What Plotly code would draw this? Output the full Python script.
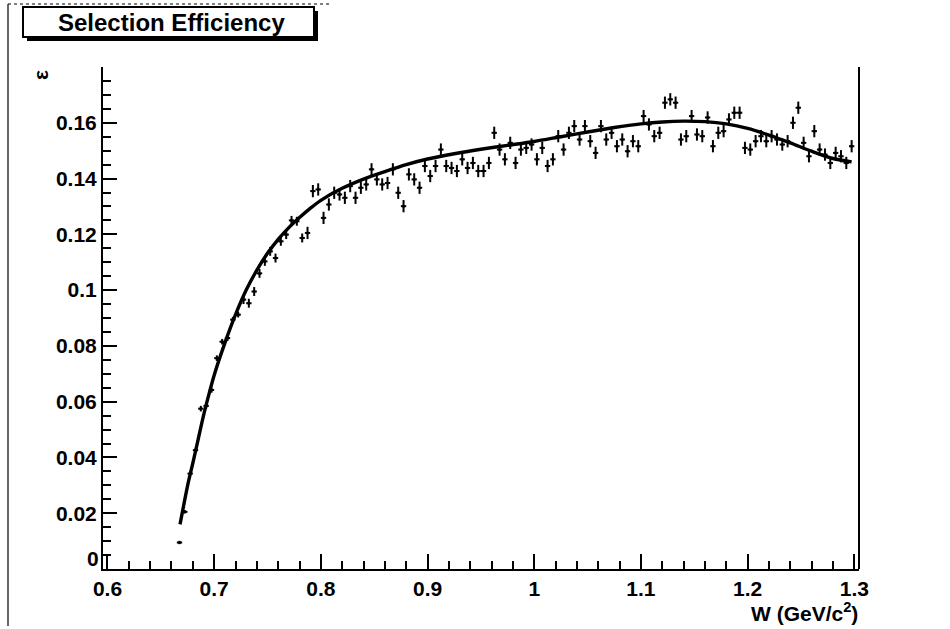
import plotly.graph_objects as go

# ---- data ----
w_bins = [0.6675, 0.6725, 0.6775, 0.6825, 0.6875, 0.6925, 0.6975, 0.7025, 0.7075, 0.7125,
          0.7175, 0.7225, 0.7275, 0.7325, 0.7375, 0.7425, 0.7475, 0.7525, 0.7575, 0.7625,
          0.7675, 0.7725, 0.7775, 0.7825, 0.7875, 0.7925, 0.7975, 0.8025, 0.8075, 0.8125,
          0.8175, 0.8225, 0.8275, 0.8325, 0.8375, 0.8425, 0.8475, 0.8525, 0.8575, 0.8625,
          0.8675, 0.8725, 0.8775, 0.8825, 0.8875, 0.8925, 0.8975, 0.9025, 0.9075, 0.9125,
          0.9175, 0.9225, 0.9275, 0.9325, 0.9375, 0.9425, 0.9475, 0.9525, 0.9575, 0.9625,
          0.9675, 0.9725, 0.9775, 0.9825, 0.9875, 0.9925, 0.9975, 1.0025, 1.0075, 1.0125,
          1.0175, 1.0225, 1.0275, 1.0325, 1.0375, 1.0425, 1.0475, 1.0525, 1.0575, 1.0625,
          1.0675, 1.0725, 1.0775, 1.0825, 1.0875, 1.0925, 1.0975, 1.1025, 1.1075, 1.1125,
          1.1175, 1.1225, 1.1275, 1.1325, 1.1375, 1.1425, 1.1475, 1.1525, 1.1575, 1.1625,
          1.1675, 1.1725, 1.1775, 1.1825, 1.1875, 1.1925, 1.1975, 1.2025, 1.2075, 1.2125,
          1.2175, 1.2225, 1.2275, 1.2325, 1.2375, 1.2425, 1.2475, 1.2525, 1.2575, 1.2625,
          1.2675, 1.2725, 1.2775, 1.2825, 1.2875, 1.2925, 1.2975]

efficiency = [0.0095, 0.0205, 0.0342, 0.0426, 0.0575, 0.0585, 0.0642, 0.0756, 0.0815, 0.0828,
              0.0894, 0.0912, 0.0966, 0.0953, 0.0995, 0.1060, 0.1103, 0.1139, 0.1115, 0.1175,
              0.1199, 0.1250, 0.1247, 0.1187, 0.1205, 0.1355, 0.1361, 0.1259, 0.1307, 0.1349,
              0.1343, 0.1331, 0.1373, 0.1331, 0.1367, 0.1379, 0.1433, 0.1397, 0.1379, 0.1384,
              0.1433, 0.1349, 0.1301, 0.1415, 0.1397, 0.1367, 0.1445, 0.1409, 0.1445, 0.1504,
              0.1445, 0.1438, 0.1427, 0.1469, 0.1438, 0.1456, 0.1427, 0.1427, 0.1456, 0.1564,
              0.1504, 0.1469, 0.1528, 0.1456, 0.1504, 0.1510, 0.1522, 0.1469, 0.1510, 0.1445,
              0.1469, 0.1552, 0.1504, 0.1564, 0.1588, 0.1540, 0.1588, 0.1534, 0.1492, 0.1588,
              0.1540, 0.1564, 0.1516, 0.1540, 0.1498, 0.1534, 0.1516, 0.1624, 0.1594, 0.1552,
              0.1564, 0.1672, 0.1684, 0.1672, 0.1540, 0.1552, 0.1624, 0.1558, 0.1552, 0.1619,
              0.1516, 0.1564, 0.1570, 0.1612, 0.1636, 0.1636, 0.1510, 0.1504, 0.1534, 0.1552,
              0.1534, 0.1552, 0.1540, 0.1522, 0.1534, 0.1600, 0.1654, 0.1528, 0.1480, 0.1570,
              0.1504, 0.1486, 0.1456, 0.1492, 0.1480, 0.1456, 0.1516]

eff_err = [0.0006] * 4 + [0.0010] * 8 + [0.0016] * 12 + [0.0022] * 103
bin_half = [0.0025] * 127

fit_w = [0.668, 0.672, 0.676, 0.680, 0.685, 0.690, 0.695, 0.700, 0.710, 0.720,
         0.730, 0.740, 0.750, 0.760, 0.770, 0.780, 0.790, 0.800, 0.820, 0.840,
         0.860, 0.880, 0.900, 0.925, 0.950, 0.975, 1.000, 1.025, 1.050, 1.075,
         1.100, 1.120, 1.140, 1.160, 1.180, 1.200, 1.220, 1.240, 1.260, 1.280, 1.2975]
fit_eff = [0.0160, 0.0240, 0.0315, 0.0380, 0.0465, 0.0550, 0.0625, 0.0695, 0.0810, 0.0912,
           0.1000, 0.1072, 0.1132, 0.1182, 0.1224, 0.1260, 0.1293, 0.1322, 0.1365, 0.1398,
           0.1425, 0.1450, 0.1470, 0.1489, 0.1505, 0.1519, 0.1533, 0.1550, 0.1567, 0.1583,
           0.1596, 0.1603, 0.1606, 0.1604, 0.1596, 0.1580, 0.1556, 0.1528, 0.1498, 0.1472, 0.1460]

x_ticks = [0.6, 0.7, 0.8, 0.9, 1.0, 1.1, 1.2, 1.3]
x_labels = ["0.6", "0.7", "0.8", "0.9", "1", "1.1", "1.2", "1.3"]
y_ticks = [0.02, 0.04, 0.06, 0.08, 0.10, 0.12, 0.14, 0.16, 0.18]
y_labels = ["0.02", "0.04", "0.06", "0.08", "0.1", "0.12", "0.14", "0.16", " "]

# ---- figure ----
FONT = "Liberation Sans, Arial, Helvetica, sans-serif"
W, H = 950, 629
L, R, T, B = 103, 91, 67, 60
pw, ph = W - L - R, H - T - B


def px(xp):
    return (xp - L) / pw


def py(yp):
    return (H - B - yp) / ph


fig = go.Figure()
fig.add_trace(go.Scatter(
    x=w_bins, y=efficiency, mode="markers",
    marker=dict(color="black", size=3),
    error_y=dict(type="data", array=eff_err, color="black", thickness=2, width=0),
    error_x=dict(type="data", array=bin_half, color="black", thickness=2, width=0),
    showlegend=False, hoverinfo="x+y"))
fig.add_trace(go.Scatter(
    x=fit_w, y=fit_eff, mode="lines", line=dict(color="black", width=3.4, shape="spline", smoothing=0.8),
    showlegend=False, hoverinfo="skip"))

tickfont = dict(family=FONT, size=21, color="black", weight="bold")
fig.update_xaxes(range=[0.5958, 1.3044], tickvals=x_ticks, ticktext=x_labels,
                 ticks="inside", ticklen=15, tickwidth=2, tickcolor="black",
                 minor=dict(dtick=0.02, tick0=0.6, ticks="inside", ticklen=8, tickwidth=1.5,
                            tickcolor="black", showgrid=False),
                 showline=True, linecolor="black", linewidth=2, mirror=False,
                 showgrid=False, zeroline=False, tickfont=tickfont)
fig.update_yaxes(range=[0, 0.18], tickvals=y_ticks, ticktext=y_labels,
                 ticks="inside", ticklen=14, tickwidth=2, tickcolor="black",
                 minor=dict(dtick=0.005, tick0=0, ticks="inside", ticklen=8, tickwidth=1.5,
                            tickcolor="black", showgrid=False),
                 showline=True, linecolor="black", linewidth=2, mirror=False,
                 showgrid=False, zeroline=False, tickfont=tickfont)

shapes = [
    # right frame line
    dict(type="line", xref="paper", yref="paper", x0=1, x1=1, y0=0, y1=1,
         line=dict(color="black", width=2)),
    # canvas border (left / top)
    dict(type="line", xref="paper", yref="paper", x0=px(8), x1=px(8), y0=py(4), y1=py(626),
         line=dict(color="black", width=1.2)),
    dict(type="line", xref="paper", yref="paper", x0=px(8), x1=px(330), y0=py(4), y1=py(4),
         line=dict(color="black", width=1, dash="dot")),
    # title box shadow + box
    dict(type="rect", xref="paper", yref="paper", x0=px(27), x1=px(318), y0=py(41), y1=py(11),
         fillcolor="black", line=dict(width=0)),
    dict(type="rect", xref="paper", yref="paper", x0=px(23), x1=px(314), y0=py(37), y1=py(7),
         fillcolor="white", line=dict(color="black", width=2)),
]

annotations = [
    dict(text="Selection Efficiency", xref="paper", yref="paper", x=px(171), y=py(22),
         xanchor="center", yanchor="middle", showarrow=False,
         font=dict(family=FONT, size=24, color="black", weight="bold")),
    dict(text="ε", xref="paper", yref="paper", x=px(40), y=py(75), textangle=-90,
         xanchor="center", yanchor="middle", showarrow=False,
         font=dict(family=FONT, size=21, color="black", weight="bold")),
    dict(text="0", xref="paper", yref="paper", x=px(101), y=py(558),
         xanchor="right", yanchor="middle", showarrow=False,
         font=dict(family=FONT, size=21, color="black", weight="bold")),
    dict(text="W (GeV/c<sup>2</sup>)", xref="paper", yref="paper", x=px(860), y=py(612),
         xanchor="right", yanchor="middle", showarrow=False,
         font=dict(family=FONT, size=21, color="black", weight="bold")),
]

fig.update_layout(width=W, height=H, margin=dict(l=L, r=R, t=T, b=B, autoexpand=False),
                  paper_bgcolor="white", plot_bgcolor="white",
                  shapes=shapes, annotations=annotations, showlegend=False)

fig.write_html("out.html", include_plotlyjs=True, config={"displayModeBar": False})
